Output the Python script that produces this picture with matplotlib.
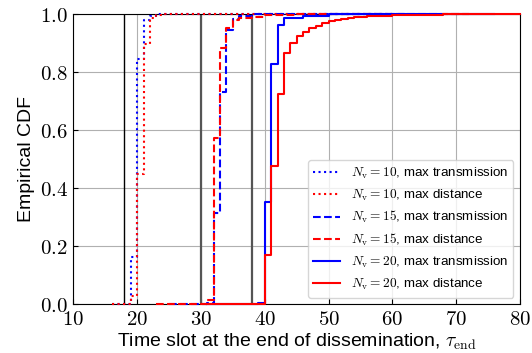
import numpy as np
import matplotlib
matplotlib.use('Agg')
import matplotlib.pyplot as plt
from matplotlib.ticker import FuncFormatter

plt.rcParams['font.family'] = ['Liberation Sans', 'DejaVu Sans']
plt.rcParams['mathtext.fontset'] = 'cm'

# empirical CDF: time slots and cdf value after each step
t_10_tx = [16, 19, 20, 21, 22, 23, 60]
cdf_10_tx = [0.0, 0.164, 0.844, 0.979, 0.993, 1.0, 1.0]

t_10_dist = [16, 19, 20, 21, 22, 23, 24, 60]
cdf_10_dist = [0.0, 0.03, 0.448, 0.896, 0.987, 0.995, 1.0, 1.0]

t_15_tx = [25, 31, 32, 33, 34, 35, 36, 38, 62]
cdf_15_tx = [0.0, 0.004, 0.316, 0.732, 0.945, 0.982, 0.993, 1.0, 1.0]

t_15_dist = [23, 31, 32, 33, 34, 35, 36, 38, 40, 45, 72]
cdf_15_dist = [0.0, 0.015, 0.574, 0.882, 0.951, 0.98, 0.987, 0.991, 0.995, 1.0, 1.0]

t_20_tx = [31, 39, 40, 41, 42, 43, 46, 50, 76]
cdf_20_tx = [0.0, 0.005, 0.354, 0.828, 0.962, 0.985, 0.993, 1.0, 1.0]

t_20_dist = [31, 40, 41, 42, 43, 44, 45, 46, 47, 48, 49, 50, 51, 52, 53,
             54, 55, 56, 58, 60, 63, 68, 80]
cdf_20_dist = [0.0, 0.17, 0.476, 0.723, 0.866, 0.901, 0.924, 0.939, 0.951,
               0.96, 0.968, 0.977, 0.98, 0.983, 0.986, 0.988, 0.99, 0.992,
               0.994, 0.996, 0.998, 1.0, 1.0]

# reference slots marked with vertical lines
ref_black = 18
ref_gray = [30, 38]

fig = plt.figure(figsize=(5.32, 3.53), dpi=100)
ax = fig.add_axes([0.1378, 0.138, 0.9774 - 0.1378, 0.9603 - 0.138])

ax.grid(True, color='#b0b0b0', linewidth=0.8)
ax.set_axisbelow(True)

ax.axvline(ref_black, color='black', linewidth=1.0, zorder=1.5)
for r in ref_gray:
    ax.axvline(r, color='#555555', linewidth=1.6, zorder=1.5)

series = [
    (t_10_tx, cdf_10_tx, 'blue', ':', r'$N_\mathrm{v} = 10$, max transmission'),
    (t_10_dist, cdf_10_dist, 'red', ':', r'$N_\mathrm{v} = 10$, max distance'),
    (t_15_tx, cdf_15_tx, 'blue', '--', r'$N_\mathrm{v} = 15$, max transmission'),
    (t_15_dist, cdf_15_dist, 'red', '--', r'$N_\mathrm{v} = 15$, max distance'),
    (t_20_tx, cdf_20_tx, 'blue', '-', r'$N_\mathrm{v} = 20$, max transmission'),
    (t_20_dist, cdf_20_dist, 'red', '-', r'$N_\mathrm{v} = 20$, max distance'),
]
for t, c, col, ls, lab in series:
    # lines at cdf=1 sit on the top spine, so let them draw over it
    ax.step(t, c, where='post', color=col, linestyle=ls, lw=1.5, zorder=3,
            clip_on=False, label=lab)

ax.set_xlim(10, 80)
ax.set_ylim(0, 1)
ax.set_xticks(np.arange(10, 81, 10))
ax.set_yticks(np.arange(0, 1.01, 0.2))
ax.xaxis.set_major_formatter(FuncFormatter(lambda v, p: r'$%d$' % v))
ax.yaxis.set_major_formatter(FuncFormatter(lambda v, p: r'$%.1f$' % v))
ax.tick_params(direction='in', labelsize=15, length=3.5, pad=4)

ax.set_xlabel(r'Time slot at the end of dissemination, $\tau_\mathrm{end}$', fontsize=14, labelpad=2)
ax.set_ylabel('Empirical CDF', fontsize=14, labelpad=3)

leg = ax.legend(loc='lower right', fontsize=9.6, borderaxespad=0.5)
leg.set_zorder(5)

plt.savefig('out.png', dpi=100)
